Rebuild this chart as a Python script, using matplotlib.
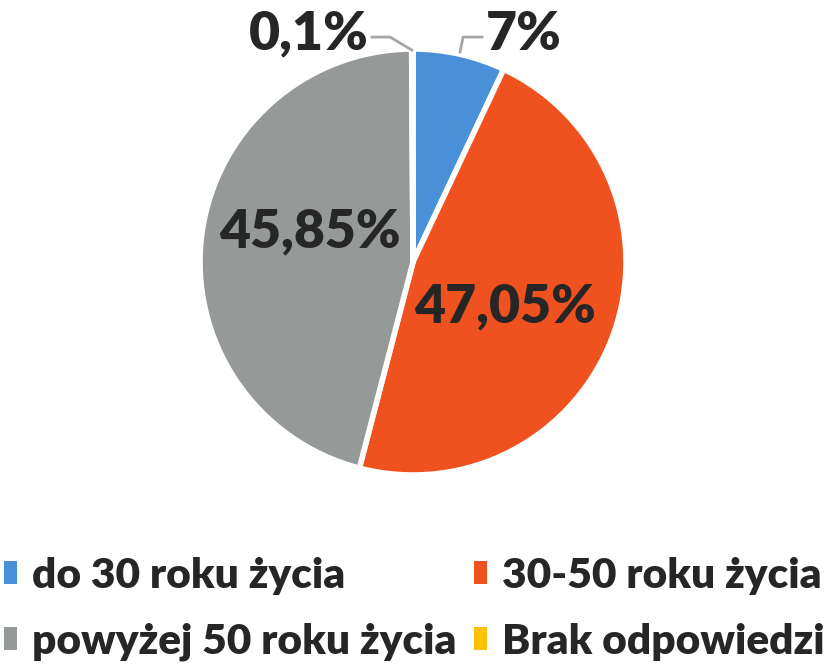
import matplotlib
matplotlib.use("Agg")
import matplotlib.pyplot as plt
from matplotlib.patches import Patch

# data
categories = ["do 30 roku życia", "30-50 roku życia", "powyżej 50 roku życia", "Brak odpowiedzi"]
values = [7, 47.05, 45.85, 0.1]
labels = ["7%", "47,05%", "45,85%", "0,1%"]
colors = ["#4a90d9", "#f0521f", "#959a98", "#ffc000"]

plt.rcParams["font.family"] = ["Lato", "DejaVu Sans"]
txt_col = "#262626"

fig = plt.figure(figsize=(8.28, 6.71), dpi=100)
cx, cy, r = 413, 262, 213  # pixel geometry of the pie
ax = fig.add_axes([(cx - r) / 828, (671 - cy - r) / 671, 2 * r / 828, 2 * r / 671])
wedges, _ = ax.pie(values, colors=colors, startangle=90, counterclock=False, radius=1,
                   wedgeprops=dict(edgecolor="white", linewidth=4))
ax.set_xlim(-1, 1)
ax.set_ylim(-1, 1)
ax.set_aspect("equal")
ax.axis("off")

lab_kw = dict(fontsize=38.5, fontweight="heavy", color=txt_col, clip_on=False)
# inside labels
ax.text(0.43, -0.21, labels[1], ha="center", va="center", **lab_kw)
ax.text(-0.485, 0.14, labels[2], ha="center", va="center", **lab_kw)

# outside labels with leader lines
ax.plot([-0.005, -0.108, -0.192], [0.995, 1.056, 1.056], color="#a6a6a6", lw=2, clip_on=False)
ax.plot([0.221, 0.235, 0.324], [0.986, 1.056, 1.056], color="#a6a6a6", lw=2, clip_on=False)
ax.text(-0.21, 1.07, labels[3], ha="right", va="center", **lab_kw)
ax.text(0.34, 1.07, labels[0], ha="left", va="center", **lab_kw)

# legend filled row by row
order = [0, 2, 1, 3]
handles = [Patch(facecolor=colors[i], edgecolor="none") for i in order]
fig.legend(handles, [categories[i] for i in order], ncol=2, loc="lower left",
           bbox_to_anchor=(-0.005, 0.002),
           frameon=False, prop=dict(weight="heavy", size=30.5),
           handlelength=0.3, handleheight=0.45, handletextpad=0.35, columnspacing=0.42,
           labelspacing=0.66, labelcolor=txt_col, borderpad=0.2, borderaxespad=0.0)

fig.savefig("out.png", dpi=100)
